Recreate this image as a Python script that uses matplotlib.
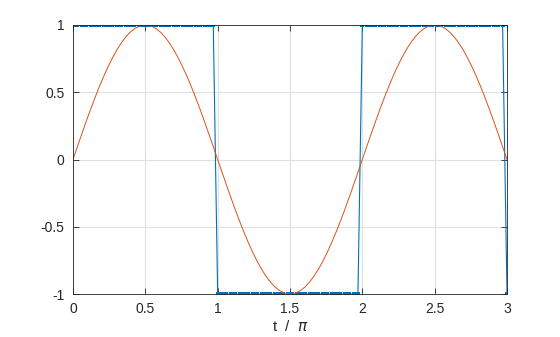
import numpy as np
import matplotlib.pyplot as plt

# sample times, in units of pi (100 samples from 0 to 3)
t = np.linspace(0, 3, 100)

# square wave samples
square_wave = [1] * 33 + [-1] * 33 + [1] * 33 + [-1]

# sine samples
sine_wave = [
    0.0, 0.0951, 0.1893, 0.2817, 0.3717, 0.4582, 0.5406, 0.6182, 0.6901, 0.7557,
    0.8146, 0.8660, 0.9096, 0.9450, 0.9718, 0.9898, 0.9989, 0.9989, 0.9898, 0.9718,
    0.9450, 0.9096, 0.8660, 0.8146, 0.7557, 0.6901, 0.6182, 0.5406, 0.4582, 0.3717,
    0.2817, 0.1893, 0.0951, 0.0,
    -0.0951, -0.1893, -0.2817, -0.3717, -0.4582, -0.5406, -0.6182, -0.6901, -0.7557,
    -0.8146, -0.8660, -0.9096, -0.9450, -0.9718, -0.9898, -0.9989, -0.9989, -0.9898,
    -0.9718, -0.9450, -0.9096, -0.8660, -0.8146, -0.7557, -0.6901, -0.6182, -0.5406,
    -0.4582, -0.3717, -0.2817, -0.1893, -0.0951, 0.0,
    0.0951, 0.1893, 0.2817, 0.3717, 0.4582, 0.5406, 0.6182, 0.6901, 0.7557,
    0.8146, 0.8660, 0.9096, 0.9450, 0.9718, 0.9898, 0.9989, 0.9989, 0.9898, 0.9718,
    0.9450, 0.9096, 0.8660, 0.8146, 0.7557, 0.6901, 0.6182, 0.5406, 0.4582, 0.3717,
    0.2817, 0.1893, 0.0951, 0.0,
]

x_ticks = [0, 0.5, 1, 1.5, 2, 2.5, 3]
x_labels = ['0', '0.5', '1', '1.5', '2', '2.5', '3']
y_ticks = [-1, -0.5, 0, 0.5, 1]
y_labels = ['-1', '-0.5', '0', '0.5', '1']

plt.rcParams['font.family'] = ['Liberation Sans', 'DejaVu Sans']
axis_color = '#262626'

fig = plt.figure(figsize=(5.6, 3.37), dpi=100)
ax = fig.add_axes([73 / 560, 1 - 294 / 337, 434 / 560, 269 / 337])

ax.plot(t, square_wave, color='#0072BD', linewidth=0.8, marker='s', markersize=2.8,
        markeredgewidth=0)
ax.plot(t, sine_wave, color='#D95319', linewidth=0.7)

ax.set_xlim(0, 3)
ax.set_ylim(-1, 1)
ax.set_xticks(x_ticks)
ax.set_xticklabels(x_labels)
ax.set_yticks(y_ticks)
ax.set_yticklabels(y_labels)

ax.grid(True, color='#e0e0e0', linewidth=0.8)
ax.set_axisbelow(True)
ax.tick_params(direction='in', length=4, width=0.6, top=True, right=True,
               colors=axis_color, labelsize=10, pad=6)
for s in ax.spines.values():
    s.set_color(axis_color)
    s.set_linewidth(0.6)

ax.set_xlabel(r't  /  $\pi$', fontsize=11, color=axis_color, labelpad=2)

fig.savefig('out.png', dpi=100)
